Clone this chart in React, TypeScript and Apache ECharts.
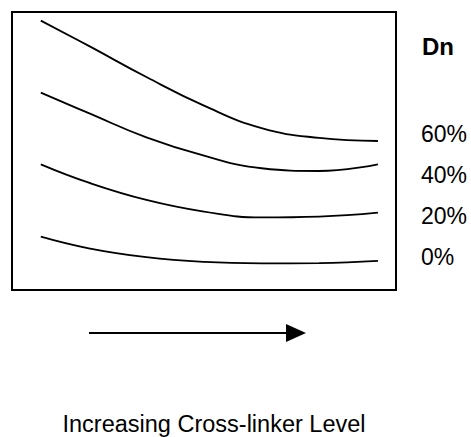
import React, { useEffect, useRef } from "react";
import * as echarts from "echarts";

// Cross-linker level (arbitrary units, increasing to the right)
const levels = [7.5, 20, 35, 50, 65, 80, 95.3];
// Dn response for each cross-linker percentage
const dn60 = [96.9, 87.8, 76.6, 66.3, 58.2, 54.7, 53.6];
const dn40 = [71.0, 63.6, 54.9, 48.3, 43.8, 42.8, 45.2];
const dn20 = [45.2, 38.6, 32.4, 28.2, 26.1, 26.4, 27.8];
const dn0 = [19.2, 15.0, 11.8, 10.1, 9.6, 9.7, 10.5];

const seriesNames = ["60%", "40%", "20%", "0%"];
const seriesData = [dn60, dn40, dn20, dn0];
const legendTitle = "Dn";
const axisTitle = "Increasing Cross-linker Level";

export default function App() {
  const ref = useRef<HTMLDivElement>(null);
  useEffect(() => {
    if (!ref.current) return;
    const chart = echarts.init(ref.current, null, { renderer: "svg" });
    const labelYs = [133.5, 175, 215.5, 256.5];
    chart.setOption({
      animation: false,
      backgroundColor: "#ffffff",
      grid: {
        left: 12,
        top: 12,
        width: 384,
        height: 278,
        show: true,
        borderColor: "#000",
        borderWidth: 2,
        backgroundColor: "transparent",
      },
      xAxis: { type: "value", min: 0, max: 100, show: false },
      yAxis: { type: "value", min: 0, max: 100, show: false },
      series: seriesData.map((d, i) => ({
        name: seriesNames[i],
        type: "line",
        smooth: 0.45,
        showSymbol: false,
        silent: true,
        data: d.map((v, j) => [levels[j], v]),
        lineStyle: { color: "#000", width: 1.8 },
      })),
      graphic: [
        {
          type: "text",
          style: {
            text: legendTitle,
            x: 422,
            y: 46,
            fill: "#000",
            font: "bold 24px 'Liberation Sans', Arial, sans-serif",
            align: "left",
            verticalAlign: "middle",
          },
        },
        ...seriesNames.map((n, i) => ({
          type: "text",
          style: {
            text: n,
            x: 421,
            y: labelYs[i],
            fill: "#000",
            font: "23px 'Liberation Sans', Arial, sans-serif",
            align: "left",
            verticalAlign: "middle",
          },
        })),
        {
          type: "line",
          shape: { x1: 89, y1: 333, x2: 288, y2: 333 },
          style: { stroke: "#000", lineWidth: 2 },
        },
        {
          type: "polygon",
          shape: { points: [[286, 324], [306, 333], [286, 342]] },
          style: { fill: "#000" },
        },
        {
          type: "text",
          style: {
            text: axisTitle,
            x: 214,
            y: 424,
            fill: "#000",
            font: "23.5px 'Liberation Sans', Arial, sans-serif",
            align: "center",
            verticalAlign: "middle",
          },
        },
      ],
    });
    return () => chart.dispose();
  }, []);
  return (
    <div
      ref={ref}
      style={{ position: "fixed", left: 0, top: 0, width: 471, height: 437 }}
    />
  );
}
